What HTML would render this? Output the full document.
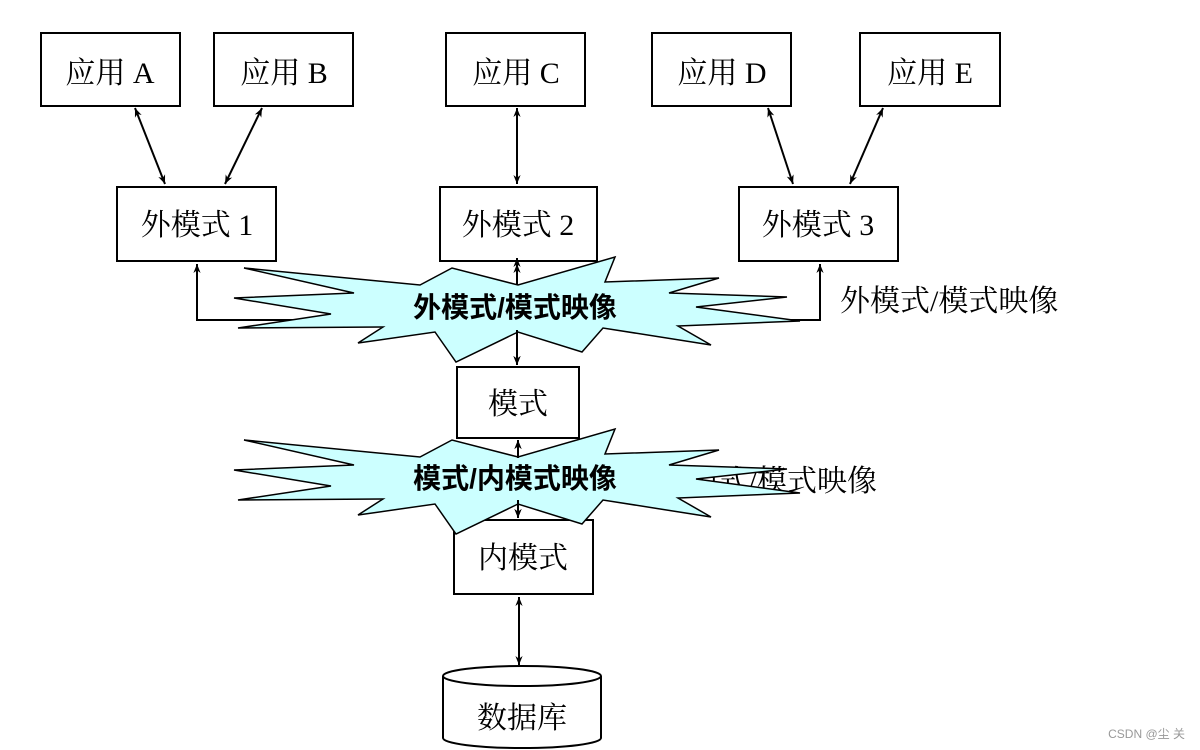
<!DOCTYPE html>
<html><head><meta charset="utf-8"><style>
html,body{margin:0;padding:0;background:#fff;}
svg{display:block;}
.t{font-family:"Liberation Serif","Noto Serif CJK SC",serif;font-size:30px;fill:#000;}
.b{font-family:"Liberation Sans","Noto Sans CJK SC",sans-serif;font-size:28px;font-weight:bold;fill:#000;}
</style></head><body>
<svg width="1200" height="750" viewBox="0 0 1200 750" xmlns="http://www.w3.org/2000/svg">
<defs>
<marker id="a" viewBox="0 0 10 10" refX="10" refY="5" markerWidth="9" markerHeight="9" orient="auto-start-reverse" markerUnits="userSpaceOnUse"><path d="M0,1 L10,5 L0,9 L3,5z" fill="#000"/></marker>
</defs>
<g fill="#fff" stroke="#000" stroke-width="2">
<rect x="41" y="33" width="139" height="73"/>
<rect x="214" y="33" width="139" height="73"/>
<rect x="446" y="33" width="139" height="73"/>
<rect x="652" y="33" width="139" height="73"/>
<rect x="860" y="33" width="140" height="73"/>
<rect x="117" y="187" width="159" height="74"/>
<rect x="440" y="187" width="157" height="74"/>
<rect x="739" y="187" width="159" height="74"/>
<rect x="457" y="367" width="122" height="71"/>
<rect x="454" y="520" width="139" height="74"/>
<path d="M443,676 L443,738 A79,10 0 0 0 601,738 L601,676 A79,10 0 0 0 443,676 A79,10 0 0 0 601,676"/>
</g>
<g class="t">
<text x="110" y="83" text-anchor="middle">应用 A</text>
<text x="284" y="83" text-anchor="middle">应用 B</text>
<text x="516" y="83" text-anchor="middle">应用 C</text>
<text x="722" y="83" text-anchor="middle">应用 D</text>
<text x="930" y="83" text-anchor="middle">应用 E</text>
<text x="197" y="235" text-anchor="middle">外模式 1</text>
<text x="518" y="235" text-anchor="middle">外模式 2</text>
<text x="818" y="235" text-anchor="middle">外模式 3</text>
<text x="518" y="414" text-anchor="middle">模式</text>
<text x="523" y="568" text-anchor="middle">内模式</text>
<text x="522" y="728" text-anchor="middle">数据库</text>
<text x="840" y="311">外模式/模式映像</text>
<text x="877" y="491" text-anchor="end">外模式/模式映像</text>
</g>
<g stroke="#000" stroke-width="2" fill="none">
<line x1="135" y1="108" x2="165" y2="184" marker-start="url(#a)" marker-end="url(#a)"/>
<line x1="262" y1="108" x2="225" y2="184" marker-start="url(#a)" marker-end="url(#a)"/>
<line x1="517" y1="108" x2="517" y2="184" marker-start="url(#a)" marker-end="url(#a)"/>
<line x1="768" y1="108" x2="793" y2="184" marker-start="url(#a)" marker-end="url(#a)"/>
<line x1="883" y1="108" x2="850" y2="184" marker-start="url(#a)" marker-end="url(#a)"/>
<polyline points="300,320 197,320 197,264" marker-end="url(#a)"/>
<polyline points="780,320 820,320 820,264" marker-end="url(#a)"/>
<line x1="517" y1="264" x2="517" y2="365" marker-start="url(#a)" marker-end="url(#a)"/>
<line x1="518" y1="440" x2="518" y2="518" marker-start="url(#a)" marker-end="url(#a)"/>
<line x1="519" y1="597" x2="519" y2="665" marker-start="url(#a)" marker-end="url(#a)"/>
</g>
<g fill="#ccffff" stroke="#000" stroke-width="1.5" stroke-linejoin="miter">
<polygon points="244,268 420,285 452,268 518,285 615,257 605,282 719,278 669,293 787,297 696,307 800,321 678,326 711,345 603,328 582,352 518,332 456,362 435,332 358,343 383,327 238,328 331,314 234,298 354,293"/>
<polygon transform="translate(0,172)" points="244,268 420,285 452,268 518,285 615,257 605,282 719,278 669,293 787,297 696,307 800,321 678,326 711,345 603,328 582,352 518,332 456,362 435,332 358,343 383,327 238,328 331,314 234,298 354,293"/>
</g>
<g stroke="#000" stroke-width="2" fill="none">
<line x1="517" y1="258" x2="517" y2="285" marker-start="url(#a)"/>
<line x1="517" y1="330" x2="517" y2="365" marker-end="url(#a)"/>
<line x1="518" y1="440" x2="518" y2="458" marker-start="url(#a)"/>
<line x1="518" y1="500" x2="518" y2="518" marker-end="url(#a)"/>
</g>
<text class="b" x="515" y="317" text-anchor="middle">外模式/模式映像</text>
<text class="b" x="515" y="488" text-anchor="middle">模式/内模式映像</text>
<text x="1185" y="738" text-anchor="end" style="font-family:'Liberation Sans','Noto Sans CJK SC',sans-serif;font-size:12px;fill:#999">CSDN @尘  关</text>
</svg>
</body></html>
